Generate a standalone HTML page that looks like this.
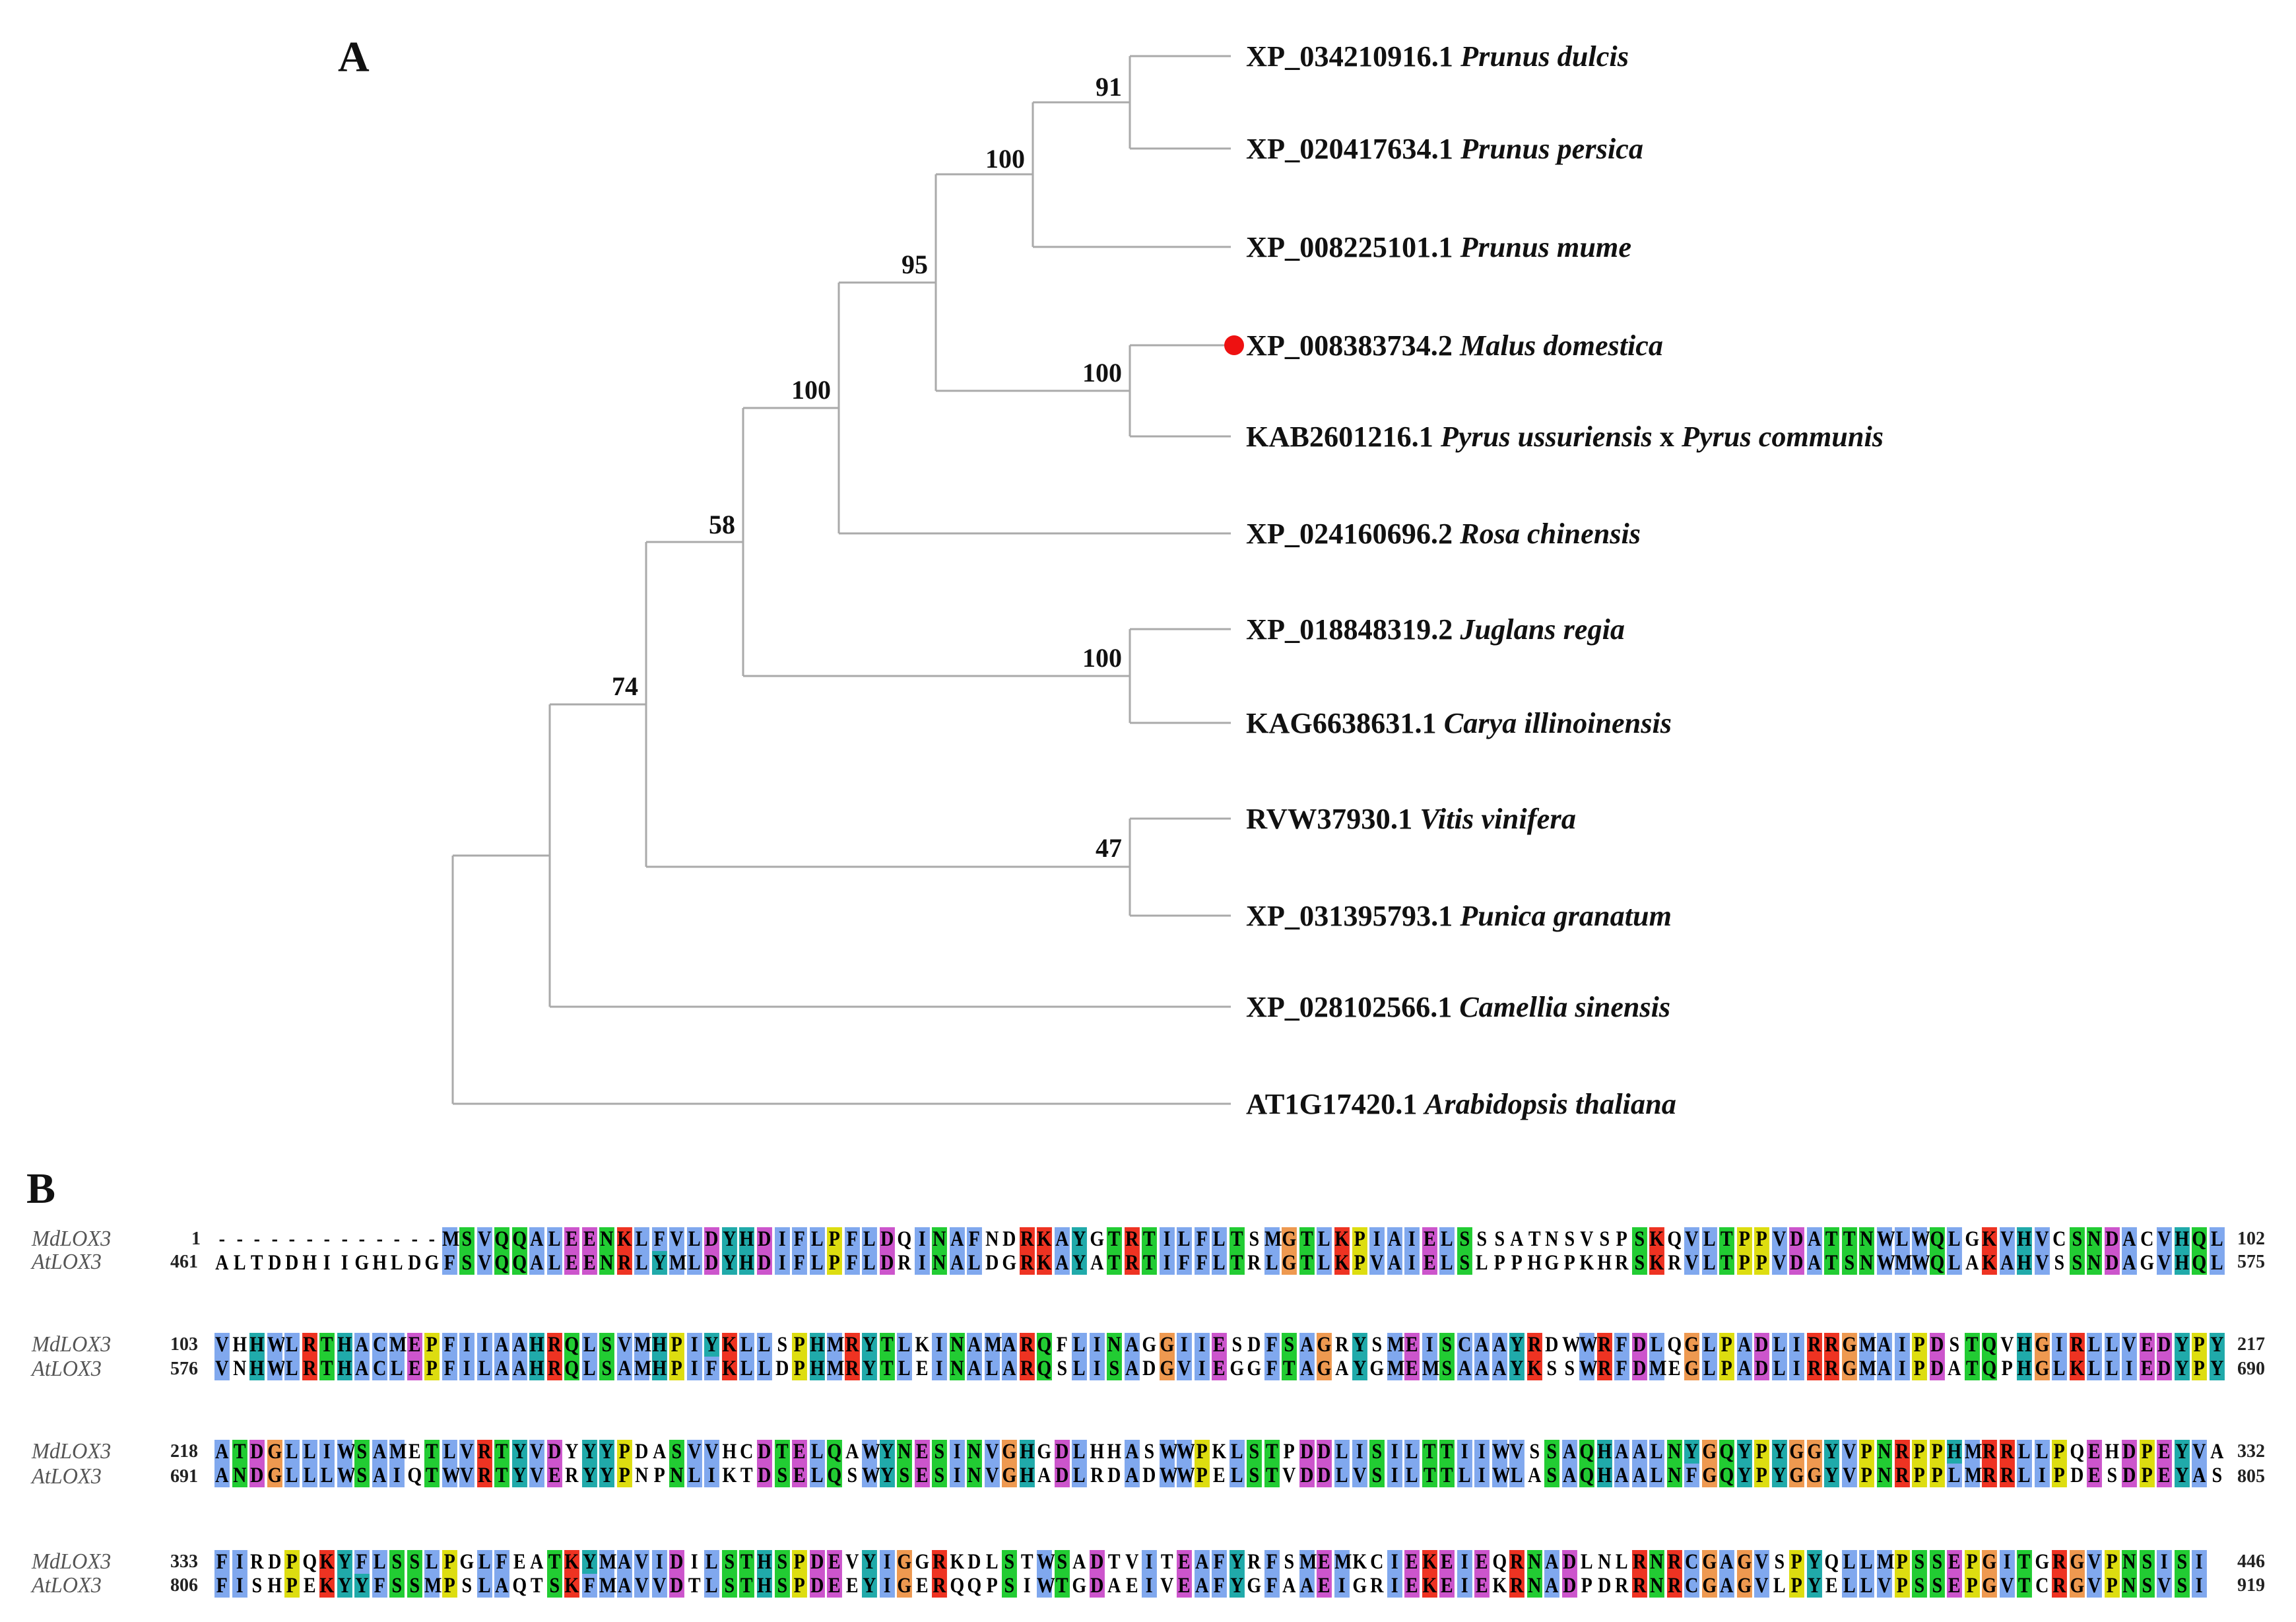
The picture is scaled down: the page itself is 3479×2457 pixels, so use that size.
<!DOCTYPE html>
<html><head><meta charset="utf-8"><style>
body{margin:0;background:#fff;width:3479px;height:2457px;overflow:hidden;position:relative;font-family:"Liberation Serif",serif}
svg{position:absolute;left:0;top:0}
.row{position:absolute;left:323px;height:36px;white-space:nowrap;font-family:"Liberation Serif",serif;font-weight:bold;font-size:33px;line-height:36px}
.row span{display:inline-block;width:26.52px;text-align:center;height:36px;transform:scaleX(0.85)}
.lab{position:absolute;left:48px;font-style:italic;font-size:34px;color:#555;line-height:36px;transform:scaleX(0.95);transform-origin:left}
.num{position:absolute;font-weight:bold;font-size:28px;line-height:36px;color:#222}
</style></head><body>
<svg width="3479" height="2457" font-family="Liberation Serif, serif" font-weight="bold">
<g stroke="#aaa" stroke-width="3" fill="none">
<path d="M1712 85V225M1712 85H1865M1712 225H1865"/>
<path d="M1565 155V374M1565 155H1712M1565 374H1865"/>
<path d="M1712 523V661M1712 523H1865M1712 661H1865"/>
<path d="M1418 264V592M1418 264H1565M1418 592H1712"/>
<path d="M1271 428V808M1271 428H1418M1271 808H1865"/>
<path d="M1712 953V1095M1712 953H1865M1712 1095H1865"/>
<path d="M1126 618V1024M1126 618H1271M1126 1024H1712"/>
<path d="M1712 1240V1387M1712 1240H1865M1712 1387H1865"/>
<path d="M979 821V1313M979 821H1126M979 1313H1712"/>
<path d="M833 1067V1525M833 1067H979M833 1525H1865"/>
<path d="M686 1296V1672M686 1296H833M686 1672H1865"/>
</g>
<g font-size="40" text-anchor="end" fill="#111">
<text x="1700" y="145">91</text>
<text x="1553" y="254">100</text>
<text x="1700" y="578">100</text>
<text x="1406" y="414">95</text>
<text x="1259" y="604">100</text>
<text x="1700" y="1010">100</text>
<text x="1114" y="808">58</text>
<text x="1700" y="1298">47</text>
<text x="967" y="1053">74</text>
</g>
<text x="512" y="108" font-size="66" fill="#111">A</text>
<text x="40" y="1822" font-size="66" fill="#111">B</text>
<circle cx="1870" cy="523" r="15" fill="#ee1111"/>
<g font-size="44" fill="#111">
<text x="1888" y="100" textLength="580" lengthAdjust="spacingAndGlyphs">XP_034210916.1 <tspan font-style="italic">Prunus dulcis</tspan></text>
<text x="1888" y="240" textLength="602" lengthAdjust="spacingAndGlyphs">XP_020417634.1 <tspan font-style="italic">Prunus persica</tspan></text>
<text x="1888" y="389" textLength="584" lengthAdjust="spacingAndGlyphs">XP_008225101.1 <tspan font-style="italic">Prunus mume</tspan></text>
<text x="1888" y="538" textLength="632" lengthAdjust="spacingAndGlyphs">XP_008383734.2 <tspan font-style="italic">Malus domestica</tspan></text>
<text x="1888" y="676" textLength="966" lengthAdjust="spacingAndGlyphs">KAB2601216.1 <tspan font-style="italic">Pyrus ussuriensis</tspan> x <tspan font-style="italic">Pyrus communis</tspan></text>
<text x="1888" y="823" textLength="598" lengthAdjust="spacingAndGlyphs">XP_024160696.2 <tspan font-style="italic">Rosa chinensis</tspan></text>
<text x="1888" y="968" textLength="574" lengthAdjust="spacingAndGlyphs">XP_018848319.2 <tspan font-style="italic">Juglans regia</tspan></text>
<text x="1888" y="1110" textLength="645" lengthAdjust="spacingAndGlyphs">KAG6638631.1 <tspan font-style="italic">Carya illinoinensis</tspan></text>
<text x="1888" y="1255" textLength="500" lengthAdjust="spacingAndGlyphs">RVW37930.1 <tspan font-style="italic">Vitis vinifera</tspan></text>
<text x="1888" y="1402" textLength="645" lengthAdjust="spacingAndGlyphs">XP_031395793.1 <tspan font-style="italic">Punica granatum</tspan></text>
<text x="1888" y="1540" textLength="643" lengthAdjust="spacingAndGlyphs">XP_028102566.1 <tspan font-style="italic">Camellia sinensis</tspan></text>
<text x="1888" y="1687" textLength="652" lengthAdjust="spacingAndGlyphs">AT1G17420.1 <tspan font-style="italic">Arabidopsis thaliana</tspan></text>
</g>
</svg>

<div class="lab" style="top:1859px">MdLOX3</div><div class="lab" style="top:1894px">AtLOX3</div>
<div class="lab" style="top:2019px">MdLOX3</div><div class="lab" style="top:2056px">AtLOX3</div>
<div class="lab" style="top:2181px">MdLOX3</div><div class="lab" style="top:2219px">AtLOX3</div>
<div class="lab" style="top:2348px">MdLOX3</div><div class="lab" style="top:2384px">AtLOX3</div>

<div class="num" style="top:1859px;left:290px">1</div><div class="num" style="top:1894px;left:258px">461</div>
<div class="num" style="top:2019px;left:258px">103</div><div class="num" style="top:2056px;left:258px">576</div>
<div class="num" style="top:2181px;left:258px">218</div><div class="num" style="top:2219px;left:258px">691</div>
<div class="num" style="top:2348px;left:258px">333</div><div class="num" style="top:2384px;left:258px">806</div>

<div class="num" style="top:1859px;left:3390px">102</div><div class="num" style="top:1894px;left:3390px">575</div>
<div class="num" style="top:2019px;left:3390px">217</div><div class="num" style="top:2056px;left:3390px">690</div>
<div class="num" style="top:2181px;left:3390px">332</div><div class="num" style="top:2219px;left:3390px">805</div>
<div class="num" style="top:2348px;left:3390px">446</div><div class="num" style="top:2384px;left:3390px">919</div>

<div class="row" id="r0" style="top:1859px">-------------MSVQQALEENKLFVLDYHDIFLPFLDQINAFNDRKAYGTRTILFLTSMGTLKPIAIELSSSATNSVSPSKQVLTPPVDATTNWLWQLGKVHVCSNDACVHQL</div>
<div class="row" id="r1" style="top:1895px">ALTDDHIIGHLDGFSVQQALEENRLYMLDYHDIFLPFLDRINALDGRKAYATRTIFFLTRLGTLKPVAIELSLPPHGPKHRSKRVLTPPVDATSNWMWQLAKAHVSSNDAGVHQL</div>
<div class="row" id="r2" style="top:2019px">VHHWLRTHACMEPFIIAAHRQLSVMHPIYKLLSPHMRYTLKINAMARQFLINAGGIIESDFSAGRYSMEISCAAYRDWWRFDLQGLPADLIRRGMAIPDSTQVHGIRLLVEDYPY</div>
<div class="row" id="r3" style="top:2055px">VNHWLRTHACLEPFILAAHRQLSAMHPIFKLLDPHMRYTLEINALARQSLISADGVIEGGFTAGAYGMEMSAAAYKSSWRFDMEGLPADLIRRGMAIPDATQPHGLKLLIEDYPY</div>
<div class="row" id="r4" style="top:2181px">ATDGLLIWSAMETLVRTYVDYYYPDASVVHCDTELQAWYNESINVGHGDLHHASWWPKLSTPDDLISILTTIIWVSSAQHAALNYGQYPYGGYVPNRPPHMRRLLPQEHDPEYVA</div>
<div class="row" id="r5" style="top:2217px">ANDGLLLWSAIQTWVRTYVERYYPNPNLIKTDSELQSWYSESINVGHADLRDADWWPELSTVDDLVSILTTLIWLASAQHAALNFGQYPYGGYVPNRPPLMRRLIPDESDPEYAS</div>
<div class="row" id="r6" style="top:2348px">FIRDPQKYFLSSLPGLFEATKYMAVIDILSTHSPDEVYIGGRKDLSTWSADTVITEAFYRFSMEMKCIEKEIEQRNADLNLRNRCGAGVSPYQLLMPSSEPGITGRGVPNSISI</div>
<div class="row" id="r7" style="top:2384px">FISHPEKYYFSSMPSLAQTSKFMAVVDTLSTHSPDEEYIGERQQPSIWTGDAEIVEAFYGFAAEIGRIEKEIEKRNADPDRRNRCGAGVLPYELLVPSSEPGVTCRGVPNSVSI</div>

<script>
var grp={A:'h',I:'h',L:'h',M:'h',F:'h',W:'h',V:'h',C:'h',K:'r',R:'r',E:'a',D:'a',N:'p',Q:'p',S:'p',T:'p',G:'g',P:'y',H:'c',Y:'c'};
var col={h:'#80a8ee',r:'#ee3322',a:'#cc55cc',p:'#22cc33',g:'#ee9950',y:'#dddd10',c:'#20aaaa'};
for(var b=0;b<4;b++){
 var e1=document.getElementById('r'+(2*b)),e2=document.getElementById('r'+(2*b+1));
 var s1=e1.textContent,s2=e2.textContent,h1='',h2='';
 for(var i=0;i<s1.length||i<s2.length;i++){
  var a=s1[i]||'',c=s2[i]||'';
  var ga=grp[a],gc=grp[c];
  var same=ga&&gc&&(ga==gc||((ga=='h'||ga=='c')&&(gc=='h'||gc=='c')));
  h1+='<span'+(same&&ga?' style="background:'+col[ga]+'"':'')+'>'+a+'</span>';
  h2+='<span'+(same&&gc?' style="background:'+col[gc]+'"':'')+'>'+c+'</span>';
 }
 e1.innerHTML=h1;e2.innerHTML=h2;
}
</script>
</body></html>
